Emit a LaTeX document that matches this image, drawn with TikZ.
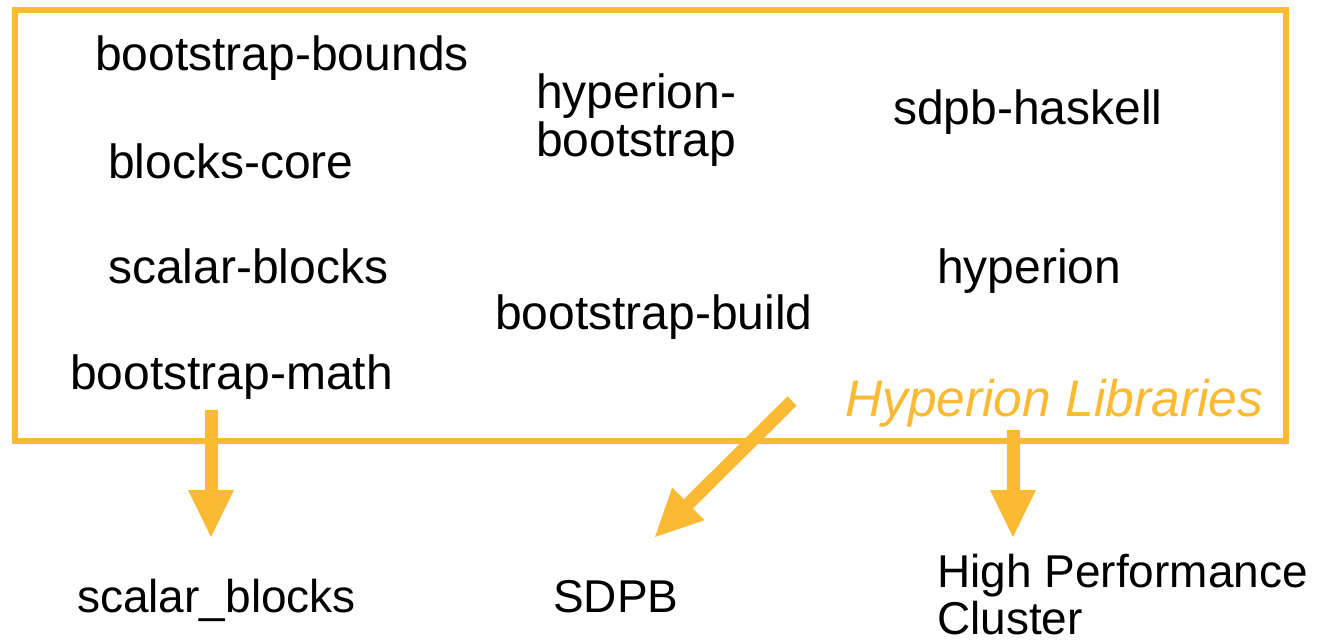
\documentclass[tikz,border=0pt]{standalone}
\usepackage{fontspec}
\setmainfont{Liberation Sans}
\usetikzlibrary{arrows.meta}
\definecolor{hyorange}{RGB}{250,186,52}
\tikzset{
  lbl/.style={anchor=base west, inner sep=0pt, font=\fontsize{48}{48}\selectfont, text=black},
  lblb/.style={anchor=base west, inner sep=0pt, font=\fontsize{46}{47}\selectfont, text=black, align=left},
  frame/.style={draw=hyorange, line width=6pt},
  bigarrow/.style={draw=hyorange, line width=13pt, -{Triangle[width=46pt,length=47pt,line width=0pt]}},
}
\begin{document}
\begin{tikzpicture}[x=1pt,y=-1pt]
\useasboundingbox (0,0) rectangle (1320,643);
\fill[white] (0,0) rectangle (1320,643);
\draw[frame] (15,10) rectangle (1286,441);
\node[lbl] (bb) at (95,70) {bootstrap-bounds};
\node[lbl] (bc) at (108,178) {blocks-core};
\node[lbl] (sb) at (108,283) {scalar-blocks};
\node[lbl] (bm) at (70,389) {bootstrap-math};
\node[lbl, align=left] (hb) at (536,156) {hyperion-\\bootstrap};
\node[lbl] (bbu) at (495,329) {bootstrap-build};
\node[lbl] (sh) at (893,124) {sdpb-haskell};
\node[lbl] (hy) at (937,283) {hyperion};
\node[anchor=base west, inner sep=0pt, font=\fontsize{51.5}{52}\selectfont\itshape, text=hyorange] (hl) at (845,416) {Hyperion Libraries};
\node[lblb] (sc) at (77,612) {scalar\_blocks};
\node[lblb] (sd) at (553,612) {SDPB};
\node[lblb] (hpc) at (937,634) {High Performance\\Cluster};
\coordinate (s1) at (211,410);
\coordinate (e1) at (211,537);
\coordinate (s2) at (792,401);
\coordinate (e2) at (655,537);
\coordinate (s3) at (1013,430);
\coordinate (e3) at (1013,537);
\draw[bigarrow] (s1) -- (e1);
\draw[bigarrow] (s2) -- (e2);
\draw[bigarrow] (s3) -- (e3);
\end{tikzpicture}
\end{document}
